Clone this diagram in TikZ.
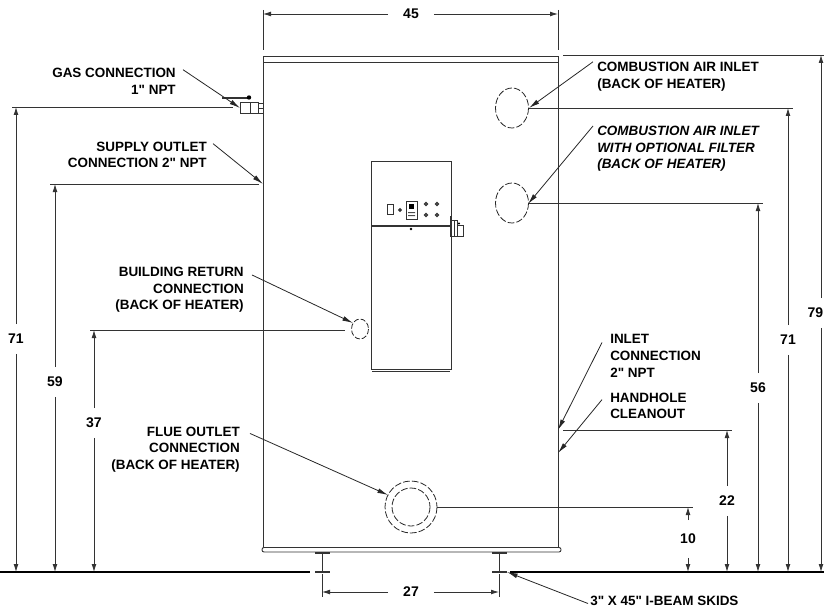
\documentclass[tikz,border=0pt]{standalone}
\usepackage{fontspec}
\setmainfont[Ligatures=TeXOff]{Liberation Sans}
\usetikzlibrary{arrows.meta,positioning}
\tikzset{
  heater/.style={draw=black!80,line width=.7pt},
  thinpart/.style={draw=black!80,line width=.6pt},
  extline/.style={draw=black!80,line width=.6pt},
  dimline/.style={draw=black!80,line width=.6pt,-{Latex[length=6pt,width=3.6pt]}},
  leader/.style={draw=black!85,line width=.6pt,-{Latex[length=8pt,width=3.6pt]}},
  hidden/.style={draw=black!85,line width=.6pt,dash pattern=on 5pt off 1.6pt},
  ground/.style={draw=black,line width=1.4pt},
  dimtext/.style={font=\fontsize{10.5}{12}\selectfont\bfseries,inner sep=0pt,minimum width=14pt,minimum height=22pt},
  notetext/.style={font=\fontsize{10.1}{12.5}\selectfont\bfseries,inner sep=0pt},
  noteleft/.style={notetext,anchor=east,align=right},
  noteright/.style={notetext,anchor=west,align=left}
}
\begin{document}
\begin{tikzpicture}[x=0.75pt,y=-0.75pt]
  \useasboundingbox (0,0) rectangle (824,606);
  \clip (0,0) rectangle (824,606);

  % heater body
  \draw[heater] (263,56) rectangle (558,548);
  \draw[thinpart] (263,62.5) -- (558,62.5);
  \draw[heater,fill=white,rounded corners=1.5pt] (262,547.5) rectangle (561,552);

  % skids and floor
  \draw[heater] (322,553) -- (322,572);
  \draw[heater] (499,553) -- (499,572);
  \draw[heater,line width=1.2pt] (315,553) -- (330,553) (315,572) -- (330,572);
  \draw[heater,line width=1.2pt] (492,553) -- (507,553) (492,572) -- (507,572);
  \coordinate (floorL) at (0,572);
  \coordinate (floorLe) at (310,572);
  \coordinate (floorRs) at (510,572);
  \coordinate (floorR) at (824,572);
  \draw[ground] (floorL) -- (floorLe);
  \draw[ground] (floorRs) -- (floorR);

  % control panel
  \draw[heater] (371.5,161) rectangle (451,369);
  \draw[heater,line width=1.3pt] (371.5,226) -- (451,226);
  \draw[thinpart] (372,371) -- (450,371);
  \draw[thinpart] (387,204) rectangle (393,214);
  \draw[heater,line width=.9pt] (400,210) circle [radius=1.3];
  \draw[heater] (406,201) rectangle (417,219);
  \fill[black] (408.5,204) rectangle (413.5,209);
  \fill[black!70] (408,212) rectangle (415,213.2) (408,215) rectangle (415,216.2);
  \draw[heater,line width=.9pt] (426,204) circle [radius=1.5];
  \draw[heater,line width=.9pt] (437,204) circle [radius=1.5];
  \draw[heater,line width=.9pt] (426,215) circle [radius=1.5];
  \draw[heater,line width=.9pt] (437,215) circle [radius=1.5];
  \fill[black] (411,229) circle [radius=1.4];
  \draw[heater,line width=1.2pt] (451,216) -- (451,237);
  \draw[thinpart] (451,220) rectangle (457,236);
  \draw[thinpart] (454,220) -- (454,236);
  \draw[thinpart] (457,225) rectangle (463,236);
  \fill[black] (459,223.5) circle [radius=1.2];

  % gas valve
  \draw[thinpart] (240,102.5) rectangle (250,113);
  \draw[thinpart] (250,102.5) -- (258,102.5) -- (258,113) -- (250,113);
  \draw[thinpart] (258,103.5) rectangle (263,113);
  \draw[thinpart] (258,108) -- (263,108);
  \draw[heater,line width=1pt] (222,98) -- (250,98);
  \fill[black] (249,97.5) circle [radius=2.2];

  % connections drawn behind the shell
  \draw[hidden] (411,507) circle [radius=26];
  \draw[hidden] (411,507) circle [radius=19];
  \draw[hidden] (512,108) ellipse [x radius=16.5,y radius=20];
  \draw[hidden] (512,203) ellipse [x radius=16.5,y radius=20];
  \draw[hidden,dash pattern=on 4pt off 1.5pt] (360,329) ellipse [x radius=8.5,y radius=10];

  % top dimension 45
  \draw[extline] (263,10) -- (263,50);
  \draw[extline] (558,10) -- (558,50);
  \coordinate (d45a) at (263,14);
  \coordinate (d45b) at (558,14);
  \node[dimtext,minimum width=34pt,minimum height=12pt] (d45) at (411,14) {45};
  \draw[dimline] (d45) -- (d45a);
  \draw[dimline] (d45) -- (d45b);

  % bottom dimension 27
  \draw[extline] (322,574) -- (322,597);
  \draw[extline] (499,574) -- (499,597);
  \coordinate (d27a) at (322,592);
  \coordinate (d27b) at (499,592);
  \node[dimtext,minimum width=34pt,minimum height=12pt] (d27) at (411,592) {27};
  \draw[dimline] (d27) -- (d27a);
  \draw[dimline] (d27) -- (d27b);

  % left heights
  \draw[extline] (12,107) -- (233,107);
  \coordinate (d71La) at (16,107);
  \coordinate (d71Lb) at (16,572);
  \node[dimtext] (d71L) at (16,339) {71};
  \draw[dimline] (d71L) -- (d71La);
  \draw[dimline] (d71L) -- (d71Lb);

  \draw[extline] (50,184) -- (259,184);
  \coordinate (d59a) at (55,184);
  \coordinate (d59b) at (55,572);
  \node[dimtext] (d59) at (55,382) {59};
  \draw[dimline] (d59) -- (d59a);
  \draw[dimline] (d59) -- (d59b);

  \draw[extline] (90,330) -- (345,330);
  \coordinate (d37a) at (94,330);
  \coordinate (d37b) at (94,572);
  \node[dimtext] (d37) at (94,423) {37};
  \draw[dimline] (d37) -- (d37a);
  \draw[dimline] (d37) -- (d37b);

  % right heights
  \draw[extline] (437,507) -- (693,507);
  \coordinate (d10a) at (688,507);
  \coordinate (d10b) at (688,572);
  \node[dimtext,minimum height=28pt] (d10) at (688,539) {10};
  \draw[dimline] (d10) -- (d10a);
  \draw[dimline] (d10) -- (d10b);

  \draw[extline] (563,430) -- (732,430);
  \coordinate (d22a) at (727,430);
  \coordinate (d22b) at (727,572);
  \node[dimtext] (d22) at (727,501) {22};
  \draw[dimline] (d22) -- (d22a);
  \draw[dimline] (d22) -- (d22b);

  \draw[extline] (529,203) -- (763,203);
  \coordinate (d56a) at (758,203);
  \coordinate (d56b) at (758,572);
  \node[dimtext] (d56) at (758,388) {56};
  \draw[dimline] (d56) -- (d56a);
  \draw[dimline] (d56) -- (d56b);

  \draw[extline] (529,108) -- (793,108);
  \coordinate (d71Ra) at (788,108);
  \coordinate (d71Rb) at (788,572);
  \node[dimtext] (d71R) at (788,340) {71};
  \draw[dimline] (d71R) -- (d71Ra);
  \draw[dimline] (d71R) -- (d71Rb);

  \draw[extline] (563,55) -- (824,55);
  \coordinate (d79a) at (821,55);
  \coordinate (d79b) at (821,572);
  \node[dimtext,anchor=east,minimum width=1pt] (d79) at (823.5,313) {79}; %贴着右边缘
  \draw[dimline] (d79.north -| d79a) -- (d79a);
  \draw[dimline] (d79.south -| d79a) -- (d79b);

  % notes
  \node[noteleft] (gasNote) at (176,81) {GAS CONNECTION\\1" NPT};
  \node[noteleft] (supplyNote) at (207,155) {SUPPLY OUTLET\\CONNECTION 2" NPT};
  \node[noteleft] (returnNote) at (244,290) {BUILDING RETURN\\CONNECTION\\(BACK OF HEATER)};
  \node[noteleft] (flueNote) at (240,449.5) {FLUE OUTLET\\CONNECTION\\(BACK OF HEATER)};
  \node[noteright] (airNote) at (597,76.5) {COMBUSTION AIR INLET\\(BACK OF HEATER)};
  \node[noteright,font=\fontsize{10.1}{12.5}\selectfont\bfseries\itshape] (filterNote) at (597,149) {COMBUSTION AIR INLET\\WITH OPTIONAL FILTER\\(BACK OF HEATER)};
  \node[noteright] (inletNote) at (610,356) {INLET\\CONNECTION\\2" NPT};
  \node[noteright] (handNote) at (610,406) {HANDHOLE\\CLEANOUT};
  \node[noteright] (skidNote) at (590,600.5) {3" X 45" I-BEAM SKIDS};

  % leaders
  \coordinate (gasEnd) at (240,108);
  \coordinate (supplyEnd) at (263,184);
  \coordinate (returnEnd) at (353,323);
  \coordinate (flueEnd) at (388,495);
  \coordinate (airEnd) at (529,108);
  \coordinate (filterEnd) at (528,204);
  \coordinate (inletEnd) at (558,430);
  \coordinate (handEnd) at (558,453);
  \coordinate (skidEnd) at (507,572);
  \draw[leader] ([shift={(7,2)}]gasNote.north east) -- (gasEnd);
  \draw[leader] ([shift={(6,2)}]supplyNote.north east) -- (supplyEnd);
  \draw[leader] ([shift={(8,8)}]returnNote.north east) -- (returnEnd);
  \draw[leader] ([shift={(10,7)}]flueNote.north east) -- (flueEnd);
  \draw[leader] ([shift={(-4,0)}]airNote.north west) -- (airEnd);
  \draw[leader] ([shift={(-4,0)}]filterNote.north west) -- (filterEnd);
  \draw[leader] ([shift={(-8,8)}]inletNote.north west) -- (inletEnd);
  \draw[leader] ([shift={(-8,7)}]handNote.north west) -- (handEnd);
  \draw[leader] ([shift={(-2,3)}]skidNote.west) -- (skidEnd);
\end{tikzpicture}
\end{document}
